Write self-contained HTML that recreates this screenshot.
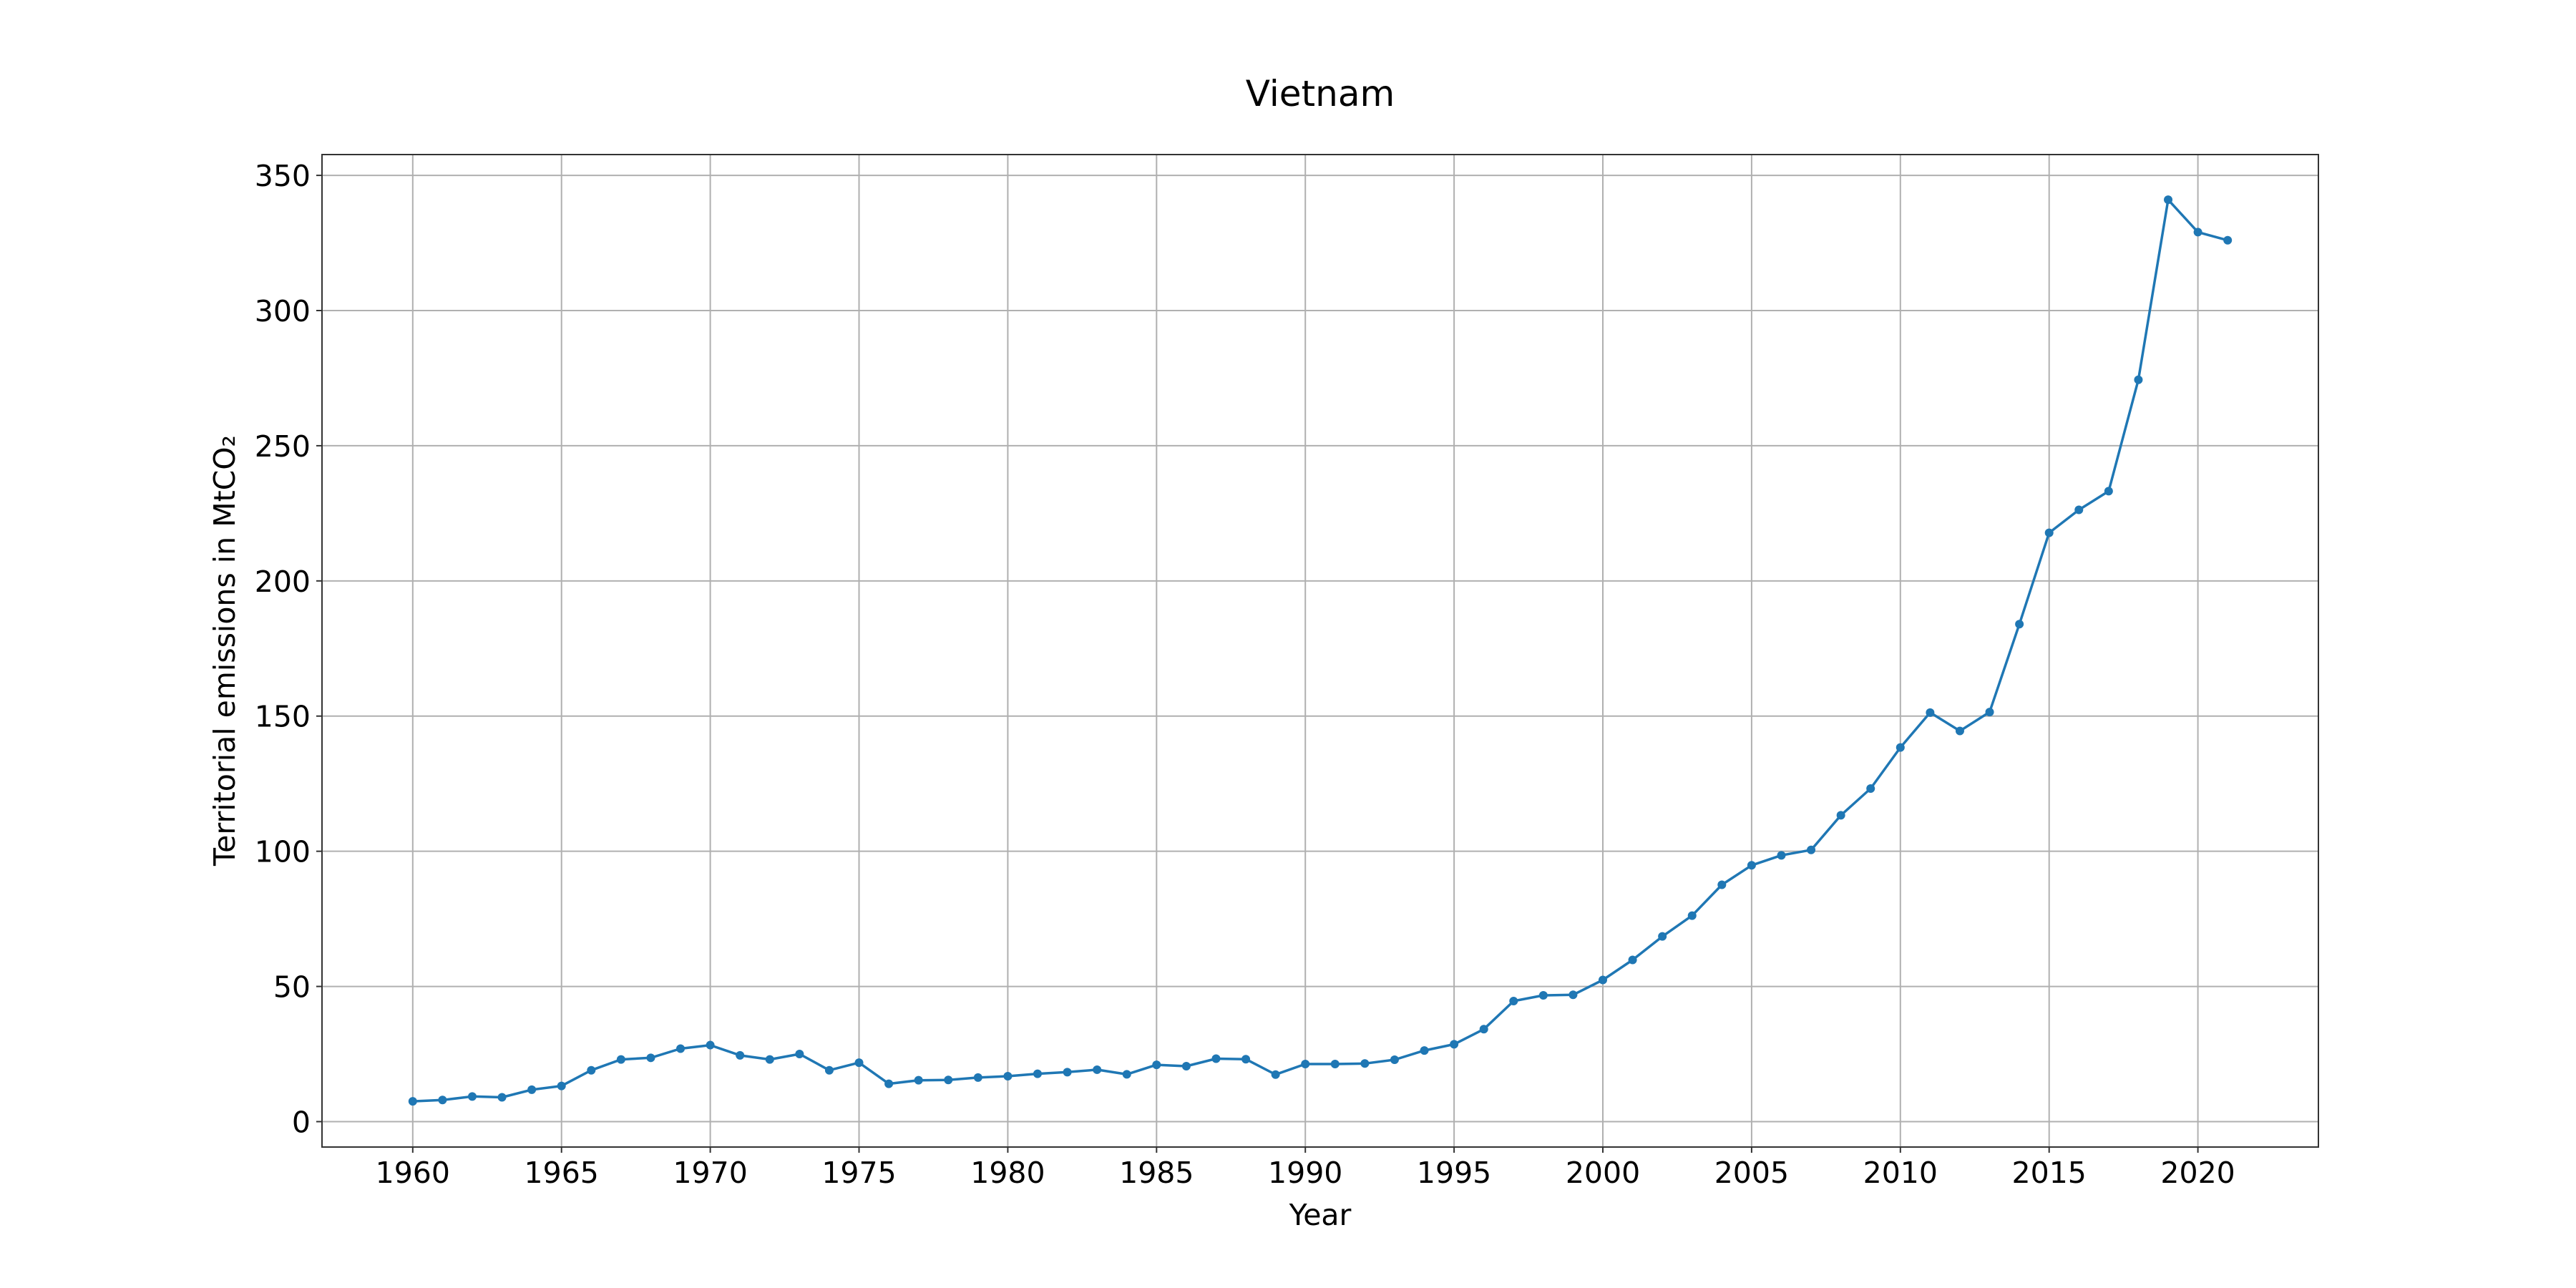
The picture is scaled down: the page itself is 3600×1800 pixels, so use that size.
<!DOCTYPE html>
<html><head><meta charset="utf-8"><style>
html,body{margin:0;padding:0;background:#fff;}
svg{display:block;font-family:"DejaVu Sans","Liberation Sans",sans-serif;}
</style></head><body>
<svg id="chart" width="3600" height="1800" viewBox="0 0 3600 1800" xmlns="http://www.w3.org/2000/svg">
<rect width="3600" height="1800" fill="#fff"/>
<g id="grid"></g>
<g id="ticks"></g>
<g id="series"></g>
<rect x="450" y="216" width="2790" height="1387" fill="none" stroke="#333" stroke-width="2"/>
<text x="1845" y="148" font-size="50" text-anchor="middle">Vietnam</text>
<text x="1845" y="1712" font-size="41" text-anchor="middle">Year</text>
<text x="0" y="0" font-size="41" text-anchor="middle" transform="translate(328,909) rotate(-90)">Territorial emissions in MtCO₂</text>
</svg>
<script>
const years = [];
for (let y = 1960; y <= 2021; y++) years.push(y);
const emissions = [7.5,8,9.3,9,11.8,13.2,19,23,23.6,27,28.3,24.5,23,25,19,21.8,14,15.3,15.4,16.3,16.8,17.7,18.3,19.2,17.5,21,20.5,23.3,23.1,17.4,21.3,21.3,21.5,22.9,26.3,28.6,34.2,44.6,46.7,46.9,52.4,59.8,68.5,76.2,87.6,94.8,98.5,100.5,113.3,123.2,138.4,151.3,144.5,151.5,184,217.8,226.3,233.2,274.4,341,329,326];
const xTicks = [1960,1965,1970,1975,1980,1985,1990,1995,2000,2005,2010,2015,2020];
const yTicks = [0,50,100,150,200,250,300,350];

const L=450,R=3240,T=216,B=1603;
const xmin=1956.95,xmax=2024.05,ymin=-9.4,ymax=357.7;
const sx=v=>L+(v-xmin)/(xmax-xmin)*(R-L);
const sy=v=>B-(v-ymin)/(ymax-ymin)*(B-T);
const NS="http://www.w3.org/2000/svg";
function mk(tag,attrs,parent){const e=document.createElementNS(NS,tag);for(const k in attrs)e.setAttribute(k,attrs[k]);parent.appendChild(e);return e;}
const grid=document.getElementById('grid'),ticks=document.getElementById('ticks'),series=document.getElementById('series');
xTicks.forEach(t=>{
  const x=sx(t);
  const g=mk('line',{x1:x,x2:x,y1:T,y2:B,stroke:'#b0b0b0','stroke-width':2},grid);
  
  
  const tk=mk('line',{x1:x,x2:x,y1:B,y2:B+8,stroke:'#333','stroke-width':2},ticks);
  
  
  const lb=mk('text',{x:x,y:B+50,'font-size':41,'text-anchor':'middle'},ticks);
  lb.textContent=t;
  
  
});
yTicks.forEach(t=>{
  const y=sy(t);
  const g=mk('line',{x1:L,x2:R,y1:y,y2:y,stroke:'#b0b0b0','stroke-width':2},grid);
  
  
  const tk=mk('line',{x1:L-8,x2:L,y1:y,y2:y,stroke:'#333','stroke-width':2},ticks);
  
  
  const lb=mk('text',{x:L-16,y:y+15,'font-size':41,'text-anchor':'end'},ticks);
  lb.textContent=t;
  
  
});
const pts=years.map((y,i)=>sx(y).toFixed(1)+','+sy(emissions[i]).toFixed(1)).join(' ');
const pl=mk('polyline',{points:pts,fill:'none',stroke:'#1f77b4','stroke-width':3.5,'stroke-linejoin':'round'},series);


years.forEach((y,i)=>{
  const c=mk('circle',{cx:sx(y),cy:sy(emissions[i]),r:6,fill:'#1f77b4'},series);
  
  
});
</script>
</body></html>
